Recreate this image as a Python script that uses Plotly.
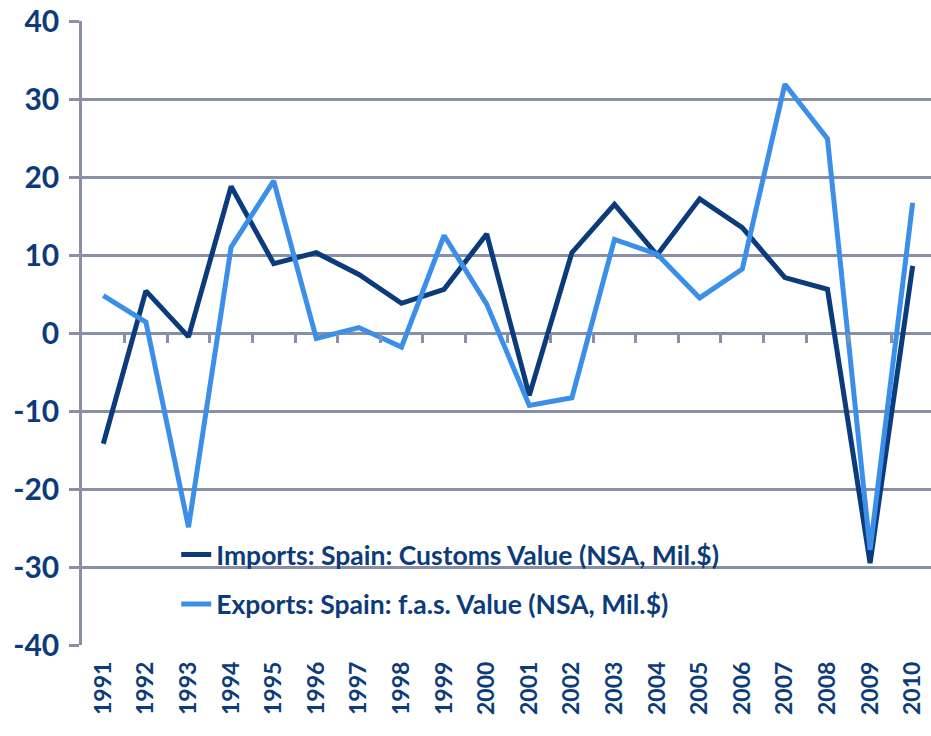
import plotly.graph_objects as go

years = [str(y) for y in range(1991, 2011)]
imports = [-14.2, 5.4, -0.5, 18.8, 8.9, 10.3, 7.5, 3.8, 5.6, 12.7,
           -8.0, 10.3, 16.5, 10.0, 17.2, 13.5, 7.1, 5.6, -29.5, 8.6]
exports = [4.8, 1.4, -24.9, 11.0, 19.5, -0.7, 0.7, -1.8, 12.5, 3.7,
           -9.3, -8.3, 12.0, 10.1, 4.5, 8.2, 31.9, 24.9, -27.8, 16.7]
y_ticks = [-40, -30, -20, -10, 0, 10, 20, 30, 40]
y_tick_text = ["-40", "-30", "-20", "-10", "0", "10", "20", "30", "40"]

navy = "#0c3b7c"
light = "#3b8fe9"
grid = "#8a8fa8"
FONT = "Lato"

idx = list(range(len(years)))

fig = go.Figure()
fig.add_trace(go.Scatter(x=idx, y=imports, mode="lines",
                         name="Imports: Spain: Customs Value (NSA, Mil.$)",
                         line=dict(color=navy, width=5), legendgroup="a"))
fig.add_trace(go.Scatter(x=idx, y=exports, mode="lines",
                         name="Exports: Spain: f.a.s. Value (NSA, Mil.$)",
                         line=dict(color=light, width=5), legendgroup="b"))
# invisible helper trace so the zero-line tick axis is drawn
fig.add_trace(go.Scatter(x=idx, y=imports, xaxis="x2", mode="lines",
                         line=dict(color="rgba(0,0,0,0)", width=0),
                         showlegend=False, hoverinfo="skip"))

xr = [-0.5, 19.43]
fig.update_layout(
    width=931, height=736,
    margin=dict(l=82, r=0, t=21, b=91, autoexpand=False),
    paper_bgcolor="white", plot_bgcolor="white",
    font=dict(family=FONT, color=navy, weight="bold"),
    showlegend=True,
    legend=dict(x=0.111, y=0.183, xanchor="left", yanchor="top",
                bgcolor="rgba(0,0,0,0)", traceorder="grouped",
                tracegroupgap=12,
                font=dict(family=FONT, size=26.5, color=navy, weight="bold")),
    xaxis=dict(range=xr, tickmode="array", tickvals=idx, ticktext=years,
               tickangle=-90, showgrid=False, zeroline=False, showline=False,
               automargin=False, ticks="", ticklabelstandoff=11,
               tickfont=dict(family=FONT, size=23, color=navy, weight="bold")),
    xaxis2=dict(overlaying="x", anchor="free", position=0.5, range=xr, side="bottom",
                tickmode="array", tickvals=[i + 0.5 for i in idx[:-1]],
                ticks="outside", ticklen=9, tickwidth=2.5, tickcolor=grid,
                showticklabels=False, showgrid=False, zeroline=False, showline=False),
    yaxis=dict(range=[-40, 40], tickmode="array", tickvals=y_ticks, ticktext=y_tick_text,
               showgrid=True, gridcolor=grid, gridwidth=2.5, automargin=False,
               zeroline=False, showline=True, linecolor=grid, linewidth=2.5,
               ticks="outside", ticklen=10, tickwidth=2.5, tickcolor=grid,
               ticklabelstandoff=4, ticklabeloverflow="allow",
               tickfont=dict(family=FONT, size=30, color=navy, weight="bold")),
)

fig.write_html("out.html", config={"displayModeBar": False},
               post_script="document.body.style.margin='0';document.body.style.overflow='hidden';")
